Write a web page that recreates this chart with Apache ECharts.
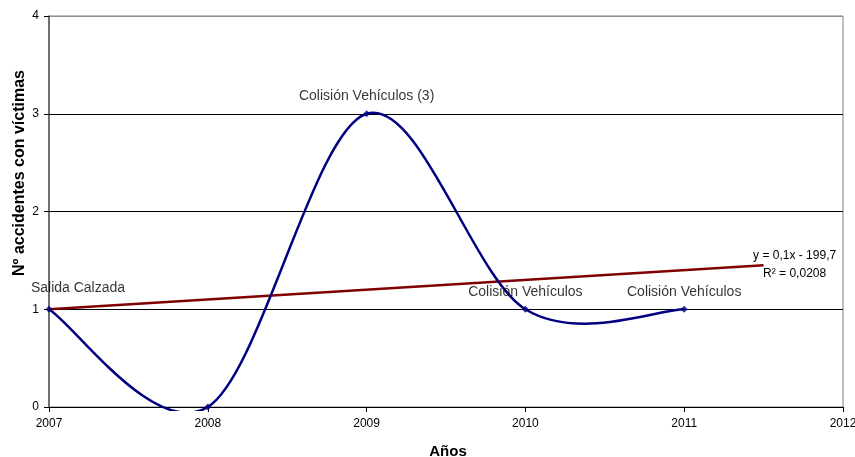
<!DOCTYPE html>
<html>
<head>
<meta charset="utf-8">
<script src="https://cdn.jsdelivr.net/npm/echarts@6/dist/echarts.min.js"></script>
<style>
html,body{margin:0;padding:0;background:#fff;}
#chart{width:855px;height:457px;}
</style>
</head>
<body>
<div id="chart"></div>
<script>
var years = [2007, 2008, 2009, 2010, 2011];
var accidents = [1, 0, 3, 1, 1];
var pointLabels = ['Salida Calzada', '', 'Colisión Vehículos (3)', 'Colisión Vehículos', 'Colisión Vehículos'];
var trendX = [2007, 2011.5];
var trendY = [1.0, 1.45];
var trendEquation = 'y = 0,1x - 199,7';
var trendR2 = 'R² = 0,0208';
var xTitle = 'Años';
var yTitle = 'Nº accidentes con víctimas';

var FONT = 'Arial, "Liberation Sans", sans-serif';
var chart = echarts.init(document.getElementById('chart'), null, {renderer: 'canvas'});

var markerData = years.map(function (y, i) {
  var item = {value: [y, accidents[i]]};
  if (i === 0) {
    item.label = {offset: [29, -4]};
  }
  return item;
});

var trendData = trendX.map(function (x, i) {
  var item = {value: [x, trendY[i]]};
  if (i === trendX.length - 1) {
    item.label = {
      show: true,
      position: 'right',
      distance: 0,
      offset: [-11, -1],
      formatter: '{a|' + trendEquation + '}\n{b|' + trendR2 + '}',
      rich: {
        a: {fontFamily: FONT, fontSize: 12, color: '#000', align: 'right', lineHeight: 18},
        b: {fontFamily: FONT, fontSize: 12, color: '#000', align: 'right', lineHeight: 18, padding: [0, 10, 0, 0]}
      }
    };
  }
  return item;
});

// Smoothed (Excel-like Catmull-Rom) curve through the data points, positioned by the axes
function renderSmooth(params, api) {
  var pts = years.map(function (y, i) { return api.coord([y, accidents[i]]); });
  var n = pts.length;
  var t = 1 / 6;
  var d = 'M' + pts[0][0] + ' ' + pts[0][1];
  for (var i = 0; i < n - 1; i++) {
    var p0 = pts[i - 1] || pts[i];
    var p1 = pts[i];
    var p2 = pts[i + 1];
    var p3 = pts[i + 2] || pts[i + 1];
    var c1 = [p1[0] + (p2[0] - p0[0]) * t, p1[1] + (p2[1] - p0[1]) * t];
    var c2 = [p2[0] - (p3[0] - p1[0]) * t, p2[1] - (p3[1] - p1[1]) * t];
    d += ' C' + c1[0] + ' ' + c1[1] + ' ' + c2[0] + ' ' + c2[1] + ' ' + p2[0] + ' ' + p2[1];
  }
  var cs = params.coordSys;
  return {
    type: 'path',
    shape: {pathData: d},
    style: {fill: null, stroke: '#000080', lineWidth: 2.5},
    clipPath: {type: 'rect', shape: {x: cs.x, y: cs.y, width: cs.width, height: cs.height + 4}},
    silent: true
  };
}

chart.setOption({
  animation: false,
  backgroundColor: '#fff',
  grid: {left: 49, right: 12, top: 16, bottom: 50, outerBoundsMode: 'none', containLabel: false,
    show: true, borderColor: '#808080', borderWidth: 1, backgroundColor: 'transparent'},
  xAxis: {
    type: 'value', min: 2007, max: 2012, interval: 1,
    axisLine: {show: true, onZero: false, lineStyle: {color: '#000', width: 1}},
    axisTick: {show: true, length: 5, inside: false, lineStyle: {color: '#000'}},
    axisLabel: {fontFamily: FONT, fontSize: 12, color: '#000', margin: 11, formatter: function (v) { return String(v); }},
    splitLine: {show: false}
  },
  yAxis: {
    type: 'value', min: 0, max: 4, interval: 1,
    axisLine: {show: true, lineStyle: {color: '#555', width: 1.5}},
    axisTick: {show: true, length: 5, inside: false, lineStyle: {color: '#000'}},
    axisLabel: {fontFamily: FONT, fontSize: 12, color: '#000', margin: 10},
    splitLine: {show: true, lineStyle: {color: ['#000', '#000', '#000', '#000', '#909090'], width: 1}}
  },
  graphic: [
    {type: 'text', x: 20, y: 173, rotation: Math.PI / 2,
      style: {text: yTitle, fontFamily: FONT, fontSize: 16, fontWeight: 'bold', fill: '#000', align: 'center', verticalAlign: 'middle'}},
    {type: 'text', x: 448, y: 452,
      style: {text: xTitle, fontFamily: FONT, fontSize: 15, fontWeight: 'bold', fill: '#000', align: 'center', verticalAlign: 'middle'}}
  ],
  series: [
    {
      type: 'line',
      data: trendData,
      showSymbol: true,
      symbol: 'circle',
      symbolSize: 1,
      itemStyle: {color: 'rgba(0,0,0,0)'},
      lineStyle: {color: '#800000', width: 2.5},
      z: 3,
      silent: true
    },
    {
      type: 'custom',
      data: [0],
      renderItem: renderSmooth,
      z: 4,
      silent: true
    },
    {
      type: 'scatter',
      data: markerData,
      symbol: 'diamond',
      symbolSize: 7,
      itemStyle: {color: '#000080'},
      label: {
        show: true,
        position: 'top',
        distance: 7,
        fontFamily: FONT,
        fontSize: 14,
        color: '#000',
        formatter: function (p) { return pointLabels[p.dataIndex]; }
      },
      z: 5,
      silent: true
    }
  ]
});
</script>
</body>
</html>
